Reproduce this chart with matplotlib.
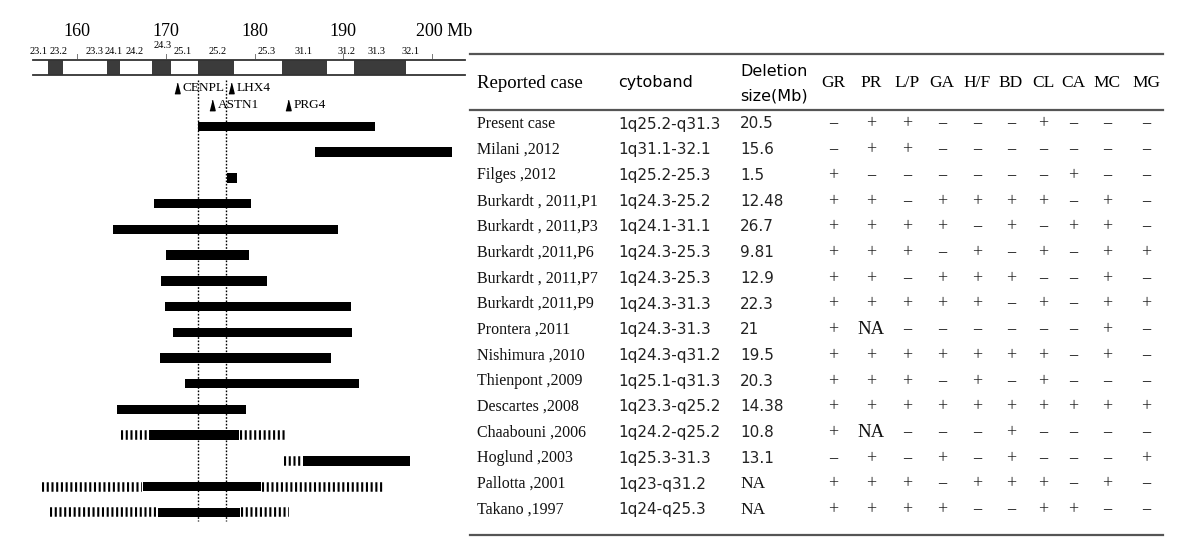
import numpy as np
import matplotlib.pyplot as plt

plt.rcParams['lines.scale_dashes'] = False
SERIF = 'Liberation Serif'
SANS = 'DejaVu Sans'

# =========================
# --- 1q deletion map (Mb) ---
# =========================
axis_ticks = [160, 170, 180, 190, 200]
axis_labels = ['160', '170', '180', '190', '200 Mb']

chrom_start, chrom_end = 155.0, 203.7
dark_start = [156.7, 163.4, 168.5, 173.6, 183.1, 191.2]
dark_end = [158.4, 164.8, 170.6, 177.7, 188.2, 197.1]

band_labels = ['23.1', '23.2', '23.3', '24.1', '24.2', '24.3', '25.1',
               '25.2', '25.3', '31.1', '31.2', '31.3', '32.1']
band_pos = [155.7, 157.9, 162.0, 164.1, 166.5, 169.6, 171.9,
            175.8, 181.4, 185.5, 190.4, 193.7, 197.6]

gene_names = ['CENPL', 'LHX4', 'ASTN1', 'PRG4']
gene_pos = [171.3, 177.4, 175.2, 183.8]
gene_level = [0, 0, 1, 1]

critical_lines = [173.6, 176.8]

case_names = ['Present case', 'Milani ,2012', 'Filges ,2012', 'Burkardt , 2011,P1',
              'Burkardt , 2011,P3', 'Burkardt ,2011,P6', 'Burkardt , 2011,P7',
              'Burkardt ,2011,P9', 'Prontera ,2011', 'Nishimura ,2010',
              'Thienpont ,2009', 'Descartes ,2008', 'Chaabouni ,2006',
              'Hoglund ,2003', 'Pallotta ,2001', 'Takano ,1997']
cytobands = ['1q25.2-q31.3', '1q31.1-32.1', '1q25.2-25.3', '1q24.3-25.2',
             '1q24.1-31.1', '1q24.3-25.3', '1q24.3-25.3', '1q24.3-31.3',
             '1q24.3-31.3', '1q24.3-q31.2', '1q25.1-q31.3', '1q23.3-q25.2',
             '1q24.2-q25.2', '1q25.3-31.3', '1q23-q31.2', '1q24-q25.3']
del_sizes = ['20.5', '15.6', '1.5', '12.48', '26.7', '9.81', '12.9', '22.3',
             '21', '19.5', '20.3', '14.38', '10.8', '13.1', 'NA', 'NA']

del_start = [173.6, 186.8, 176.9, 168.7, 164.1, 170.0, 169.5, 169.9,
             170.8, 169.4, 172.2, 164.5, 168.1, 185.5, 167.4, 169.1]
del_end = [193.6, 202.3, 178.0, 179.6, 189.4, 179.4, 181.4, 190.9,
           191.0, 188.6, 191.8, 179.0, 178.3, 197.5, 180.7, 178.4]

# uncertain breakpoint regions (hatched)
fuzzy_row = [12, 12, 13, 14, 14, 15, 15]
fuzzy_start = [165.0, 178.4, 183.3, 156.1, 180.9, 157.0, 178.5]
fuzzy_end = [168.0, 183.5, 185.4, 167.3, 194.5, 169.0, 183.9]

# =========================
# --- phenotype table ---
# =========================
pheno_cols = ['GR', 'PR', 'L/P', 'GA', 'H/F', 'BD', 'CL', 'CA', 'MC', 'MG']
pheno = ['-++---+---',
         '-++-------',
         '+------+--',
         '++-++++-+-',
         '++++-+-++-',
         '+++-+-+-++',
         '++-+++--+-',
         '+++++-+-++',
         '+N------+-',
         '+++++++-+-',
         '+++-+-+---',
         '++++++++++',
         '+N---+----',
         '-+-+-+---+',
         '+++-+++-+-',
         '++++--++--']

# =========================
# --- layout (pixels) ---
# =========================
W, H = 1200, 558
PX_PER_MB, X160 = 8.875, 77
row_y0, row_dy = 126.5, 25.72
bar_h = 9.5

fig = plt.figure(figsize=(W / 100, H / 100), dpi=100)
ax_t = fig.add_axes([0, 0, 1, 1])
ax_t.set_xlim(0, W)
ax_t.set_ylim(H, 0)
ax_t.axis('off')

ax = fig.add_axes([0, 0, 470 / W, 1])
ax.set_xlim(160 - X160 / PX_PER_MB, 160 + (470 - X160) / PX_PER_MB)
ax.set_ylim(H, 0)
ax.axis('off')
ax.patch.set_alpha(0)

# top scale
for t, lab in zip(axis_ticks, axis_labels):
    if lab.endswith('Mb'):
        ax.text(t - 1.85, 31, lab, ha='left', va='center', fontsize=13, family=SERIF)
    else:
        ax.text(t, 31, lab, ha='center', va='center', fontsize=13, family=SERIF)
    ax.plot([t, t], [54, 57.5], color='#777', lw=0.7)

# band labels
for lab, p in zip(band_labels, band_pos):
    yy = 45 if lab == '24.3' else 52
    ax.text(p, yy, lab, ha='center', va='center', fontsize=7.5, family=SERIF)

# ideogram
for s, e in zip(dark_start, dark_end):
    ax.fill_between([s, e], 60, 75, color='#3b3b3b', lw=0)
ax.plot([chrom_start, chrom_end], [60, 60], color='#333', lw=1.3)
ax.plot([chrom_start, chrom_end], [75, 75], color='#333', lw=1.3)

# genes
tri = [(-0.5, -1), (0.5, -1), (0, 1)]
for g, p, lv in zip(gene_names, gene_pos, gene_level):
    yy = 88 + lv * 17
    ax.plot(p, yy, marker=tri, ms=7.5, color='black', ls='none')
    ax.annotate(g, (p, yy), xytext=(4, 0), textcoords='offset points',
                ha='left', va='center', fontsize=9.5, family=SERIF)

# critical region lines
for c in critical_lines:
    ax.plot([c, c], [80, 521], color='black', lw=1.0, ls=(0, (1.2, 1.2)))

# deletions
ys = row_y0 + row_dy * np.arange(len(case_names))
ax.barh(ys, np.array(del_end) - np.array(del_start), left=del_start,
        height=bar_h, color='black', zorder=3)
for r, s, e in zip(fuzzy_row, fuzzy_start, fuzzy_end):
    ax.plot([s, e], [ys[r], ys[r]], color='black', lw=bar_h * 0.72,
            dashes=(1.5, 1.9), solid_capstyle='butt', dash_capstyle='butt', zorder=3)

# =========================
# --- table ---
# =========================
x0, x1 = 470, 1163
for yy in [54, 110, 535]:
    ax_t.plot([x0, x1], [yy, yy], color='#555', lw=1.6)

ax_t.text(477, 83, 'Reported case', ha='left', va='center', fontsize=13.5, family=SERIF)
ax_t.text(618, 83, 'cytoband', ha='left', va='center', fontsize=11.5, family=SANS)
ax_t.text(740, 71, 'Deletion', ha='left', va='center', fontsize=11.5, family=SANS)
ax_t.text(740, 96, 'size(Mb)', ha='left', va='center', fontsize=11.5, family=SANS)

col_x = [833, 871, 907, 942, 977, 1011, 1043, 1073, 1107, 1146]
for cx, c in zip(col_x, pheno_cols):
    ax_t.text(cx, 83, c, ha='center', va='center', fontsize=12.5, family=SERIF)

ty = 124 + row_dy * np.arange(len(case_names))
for i in range(len(case_names)):
    ax_t.text(477, ty[i], case_names[i], ha='left', va='center', fontsize=11.5,
              family=SERIF, color='#111')
    ax_t.text(618, ty[i], cytobands[i], ha='left', va='center', fontsize=11,
              family=SANS, color='#222')
    if del_sizes[i] == 'NA':
        ax_t.text(740, ty[i], 'NA', ha='left', va='center', fontsize=12.5,
                  family=SERIF, color='#111')
    else:
        ax_t.text(740, ty[i], del_sizes[i], ha='left', va='center', fontsize=11,
                  family=SANS, color='#222')
    for cx, v in zip(col_x, pheno[i]):
        if v == 'N':
            ax_t.text(cx, ty[i], 'NA', ha='center', va='center', fontsize=13.5,
                      family=SERIF, color='#111')
        else:
            sym = '+' if v == '+' else '\u2212'
            ax_t.text(cx, ty[i], sym, ha='center', va='center', fontsize=13,
                      family=SERIF, color='#222')

fig.savefig('out.png', dpi=100)
